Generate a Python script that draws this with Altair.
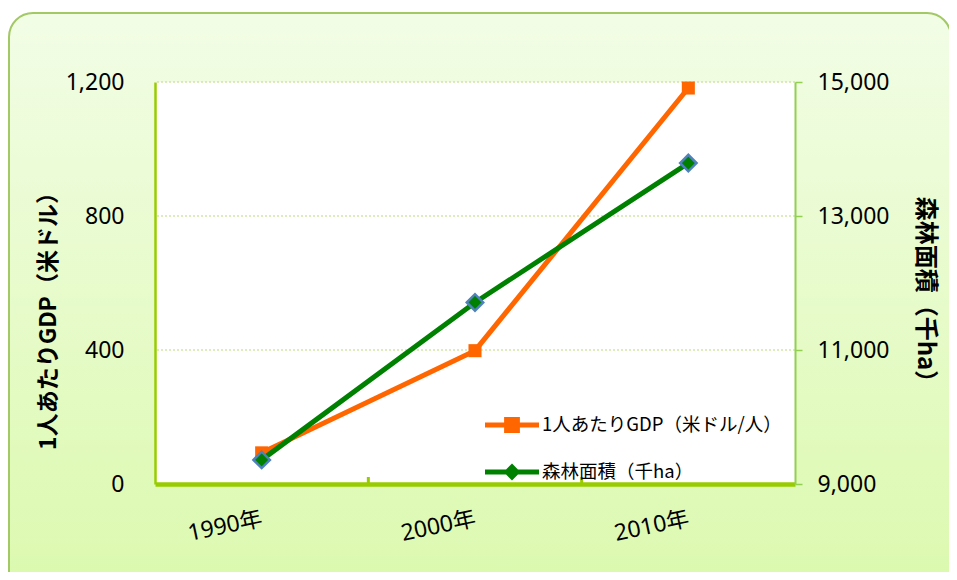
import altair as alt
import pandas as pd

# ---- data ----
years = [1990, 2000, 2010]
gdp_values = [93, 398, 1182]              # 1人あたりGDP（米ドル/人）
forest_values = [9360, 11710, 13790]      # 森林面積（千ha）
series_names = ["1人あたりGDP（米ドル/人）", "森林面積（千ha）"]
series_colors = ["#FF6600", "#008000"]
gdp_tick_values = [0, 400, 800, 1200]
gdp_grid_values = [400, 800, 1200]
forest_tick_values = [9000, 11000, 13000, 15000]
year_labels = [1990, 2000, 2010]
year_boundaries = [1995, 2005]
left_title = "1人あたりGDP（米ドル）"
right_title = "森林面積（千ha）"

# ---- layout ----
W, H = 640, 402
PAD = {"left": 147, "top": 74, "right": 154, "bottom": 88}
NUM_FONT = "Noto Sans, Noto Sans CJK JP"
JP_FONT = "Noto Sans CJK JP"
AXIS_GREEN = "#99CC00"
RIGHT_GREEN = "#92D050"

gdp_df = pd.DataFrame({"year": years, "gdp": gdp_values})
forest_df = pd.DataFrame({"year": years, "forest": forest_values})
grid_df = pd.DataFrame({"gdp": gdp_grid_values})
xtick_df = pd.DataFrame({"year": year_boundaries})
legend_df = pd.DataFrame({"series": series_names})
one = pd.DataFrame({"k": [0]})

X = alt.X(
    "year:Q",
    scale=alt.Scale(domain=[1985, 2015], nice=False, zero=False),
    axis=alt.Axis(
        values=year_labels, labelExpr="datum.value + '年'", title=None,
        ticks=False, grid=False, domainColor=AXIS_GREEN, domainWidth=4.5,
        labelFont=NUM_FONT, labelFontSize=23, labelColor="black",
        labelAngle=348, labelAlign="right", labelBaseline="middle",
        labelPadding=34, labelFlush=False, labelOverlap=False, zindex=1,
    ),
)

gdp_scale = alt.Scale(domain=[0, 1200], nice=False, zero=False)
gdp_axis = alt.Axis(
    orient="left", values=gdp_tick_values, format=",.0f", title=left_title,
    titleFont=JP_FONT, titleFontSize=23, titleFontWeight="bold", titleColor="black",
    titleAngle=270, titleX=-107, titleY=233, titleAlign="center", titleBaseline="middle",
    ticks=False, grid=False, domainColor=AXIS_GREEN, domainWidth=2.5,
    labelFont=NUM_FONT, labelFontSize=23, labelColor="black", labelPadding=31, zindex=1,
)
forest_scale = alt.Scale(domain=[9000, 15000], nice=False, zero=False)
forest_axis = alt.Axis(
    orient="right", values=forest_tick_values, format=",.0f", title=right_title,
    titleFont=JP_FONT, titleFontSize=24, titleFontWeight="bold", titleColor="black",
    titleAngle=90, titleX=129, titleY=213, titleAlign="center", titleBaseline="middle",
    ticks=True, tickSize=7, tickColor=RIGHT_GREEN, tickWidth=1.5, grid=False,
    domainColor=RIGHT_GREEN, domainWidth=2,
    labelFont=NUM_FONT, labelFontSize=23, labelColor="black", labelPadding=15, zindex=1,
)

bg_gradient = alt.LinearGradient(
    gradient="linear",
    stops=[alt.GradientStop(color="#F2FDE6", offset=0),
           alt.GradientStop(color="#DBF9AD", offset=1)],
    x1=0, x2=0, y1=0, y2=1,
)
bg = alt.Chart(one).mark_rect(
    cornerRadius=24, fill=bg_gradient, stroke="#A3C866", strokeWidth=2
).encode(x=alt.value(-146), x2=alt.value(W + 156), y=alt.value(-69), y2=alt.value(H + 120))

plotbg = alt.Chart(one).mark_rect(fill="white").encode(
    x=alt.value(0), x2=alt.value("width"), y=alt.value(0), y2=alt.value("height")
)

grid = alt.Chart(grid_df).mark_rule(color="#B9DA78", strokeDash=[2, 2], strokeWidth=1).encode(
    y=alt.Y("gdp:Q", scale=gdp_scale, axis=gdp_axis)
)
xticks = alt.Chart(xtick_df).mark_rule(color=AXIS_GREEN, strokeWidth=3).encode(
    x=X, y=alt.value(H), y2=alt.value(H - 7)
)
gdp_line = alt.Chart(gdp_df).mark_line(color=series_colors[0], strokeWidth=5).encode(
    x=X, y=alt.Y("gdp:Q", scale=gdp_scale, axis=gdp_axis)
)
gdp_pts = alt.Chart(gdp_df).mark_point(
    shape="square", filled=True, color=series_colors[0], size=170, opacity=1
).encode(x=X, y=alt.Y("gdp:Q", scale=gdp_scale, axis=gdp_axis))
gdp_group = alt.layer(grid, xticks, gdp_line, gdp_pts)

forest_line = alt.Chart(forest_df).mark_line(color=series_colors[1], strokeWidth=5).encode(
    x=X, y=alt.Y("forest:Q", scale=forest_scale, axis=forest_axis)
)
forest_pts = alt.Chart(forest_df).mark_point(
    shape="diamond", filled=True, fill=series_colors[1], stroke="#4F81BD",
    strokeWidth=2.5, size=270, opacity=1
).encode(x=X, y=alt.Y("forest:Q", scale=forest_scale, axis=forest_axis))
forest_group = alt.layer(forest_line, forest_pts)

p_square = "M-2,0H2M-0.4,-0.4H0.4V0.4H-0.4ZM-0.2,-0.2H0.2V0.2H-0.2ZM-0.05,-0.05H0.05V0.05H-0.05Z"
p_diamond = "M-2,0H2M0,-0.36L0.36,0L0,0.36L-0.36,0ZM0,-0.15L0.15,0L0,0.15L-0.15,0Z"
leg = alt.Legend(
    title=None, orient="none", legendX=341, legendY=327, padding=0,
    labelFont=JP_FONT, labelFontSize=18.5, labelColor="black", labelOffset=14,
    symbolSize=729, symbolStrokeWidth=5, rowPadding=15, zindex=1,
    labelLimit=400,
)
legend_layer = alt.Chart(legend_df).mark_point(
    filled=False, size=729, strokeWidth=5, opacity=1
).encode(
    color=alt.Color("series:N", scale=alt.Scale(domain=series_names, range=series_colors), legend=leg),
    shape=alt.Shape("series:N", scale=alt.Scale(domain=series_names, range=[p_square, p_diamond]), legend=leg),
).transform_filter("false")

chart = alt.layer(bg, plotbg, gdp_group, forest_group, legend_layer).resolve_scale(
    y="independent"
).properties(
    width=W, height=H, padding=PAD,
    autosize=alt.AutoSizeParams(type="none"), background="white",
).configure_view(stroke=None)

chart.save("out.html", embed_options={"renderer": "svg", "actions": False})
